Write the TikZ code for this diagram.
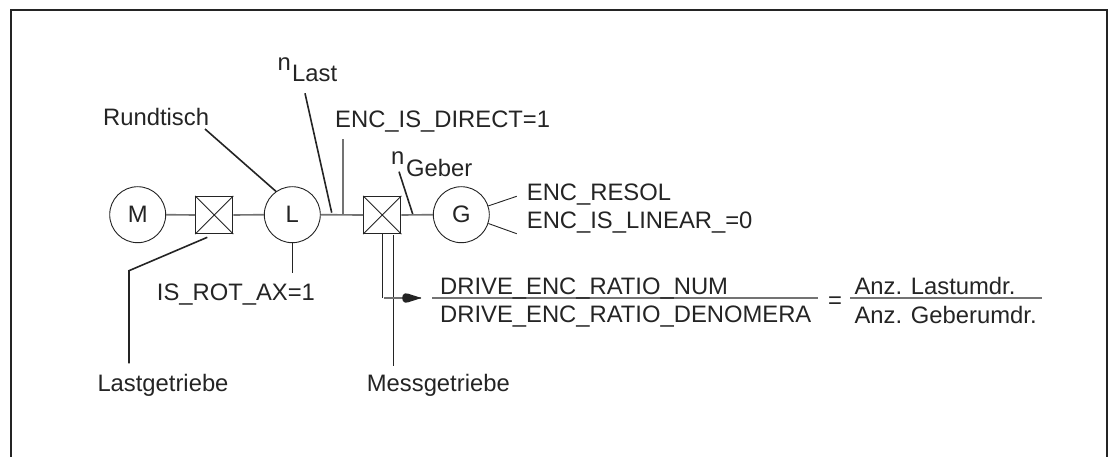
\documentclass[tikz,border=0pt]{standalone}
\usepackage{fontspec}
\setmainfont{Liberation Sans}
\definecolor{ink}{gray}{0.14}
\definecolor{shaftgray}{gray}{0.45}
\tikzset{
  x=1pt,y=-1pt,
  frameline/.style={draw=ink,line width=2pt},
  shaft/.style={draw=shaftgray,line width=1.7pt},
  thinl/.style={draw=ink,line width=0.9pt},
  lead/.style={draw=ink,line width=1.6pt},
  rotor/.style={circle,draw=ink,line width=0.9pt,minimum size=56pt,inner sep=0pt,fill=white},
  gear/.style={rectangle,draw=ink,line width=1.2pt,minimum size=37pt,inner sep=0pt},
  lab/.style={font=\fontsize{23.8}{28}\selectfont,text=ink,inner sep=0pt,anchor=base west},
}
\begin{document}
\begin{tikzpicture}
\useasboundingbox (0,0) rectangle (1111,457);
\draw[frameline] (10.5,457) -- (10.5,10.5) -- (1107,10.5) -- (1107,457);
% shafts and machine elements
\node[rotor] (M) at (137.7,214.7) {};
\node[lab,anchor=center] (Mt) at (M) {M};
\node[gear] (B1) at (214.2,215) {};
\node[rotor] (L) at (292.3,214.7) {};
\node[lab,anchor=center] (Lt) at (L) {L};
\node[gear] (B2) at (382.3,215) {};
\node[rotor] (G) at (461.3,214.7) {};
\node[lab,anchor=center] (Gt) at (G) {G};
\draw[shaft] (M) -- (B1);
\draw[shaft] (B1) -- (L);
\draw[shaft] (L) -- (B2);
\draw[shaft] (B2) -- (G);
\draw[thinl] (B1.north west) -- (B1.south east) (B1.north east) -- (B1.south west);
\draw[thinl] (B2.north west) -- (B2.south east) (B2.north east) -- (B2.south west);
% upper labels
\node[lab] (tRund) at (103,126) {Rundtisch};
\coordinate (r1) at (205,129);
\draw[lead] (r1) -- (L.125);
\node[lab] (tn1) at (277.5,70.7) {n};
\node[lab] (tLast) at (292,81.7) {Last};
\coordinate (n1) at (305,93.3);
\coordinate (n1e) at (331.7,212.7);
\draw[lead] (n1) -- (n1e);
\node[lab] (tDirect) at (335,127.7) {ENC\_IS\_DIRECT=1};
\coordinate (d1) at (343,139.3);
\coordinate (d1e) at (343,214.7);
\draw[shaft,line width=1.2pt] (d1) -- (d1e);
\node[lab] (tn2) at (391,165) {n};
\node[lab] (tGeber) at (406,176.7) {Geber};
\coordinate (n2) at (399,171.7);
\coordinate (n2e) at (412.7,214);
\draw[lead] (n2) -- (n2e);
% encoder labels
\node[lab] (tRes) at (526.7,200.7) {ENC\_RESOL};
\node[lab] (tLin) at (526.7,228.7) {ENC\_IS\_LINEAR\_=0};
\coordinate (g1) at (516.7,196.3);
\coordinate (g2) at (516.7,233.7);
\draw[thinl] (G.18) -- (g1);
\draw[thinl] (G.-18) -- (g2);
% lower left
\coordinate (l1) at (292.3,273.3);
\draw[thinl] (L.south) -- (l1);
\node[lab] (tRot) at (156.7,300) {IS\_ROT\_AX=1};
\coordinate (lg0) at (207.3,237.3);
\coordinate (lg1) at (129,270.7);
\coordinate (lg2) at (129,363.3);
\draw[lead] (lg0) -- (lg1) -- (lg2);
\node[lab] (tLastg) at (97.3,391.7) {Lastgetriebe};
% ratio
\coordinate (t1) at (382.7,233.5);
\coordinate (t2) at (382.7,297.5);
\draw[thinl] (t1) -- (t2);
\coordinate (m1) at (393.3,235);
\coordinate (m2) at (393.3,366);
\draw[lead] (m1) -- (m2);
\node[lab] (tMess) at (366.7,391.7) {Messgetriebe};
\coordinate (a1) at (384,298);
\coordinate (a2) at (421.3,298);
\draw[draw=shaftgray,line width=1.1pt] (a1) -- (a2);
\fill[ink] (a2) -- (408,293.6) -- (405,293.4) .. controls (403,293.6) and (402.2,296) .. (402.2,298)
  .. controls (402.2,300) and (403,302.4) .. (405,302.6) -- (408,302.4) -- cycle;
\coordinate (f1) at (432.3,298);
\coordinate (f2) at (818.3,298);
\draw[shaft,line width=1.4pt] (f1) -- (f2);
\node[lab] (tNum) at (440,294) {DRIVE\_ENC\_RATIO\_NUM};
\node[lab] (tDen) at (440,322.7) {DRIVE\_ENC\_RATIO\_DENOMERA};
\node[lab] (tEq) at (828,308) {=};
\coordinate (f3) at (850,298);
\coordinate (f4) at (1041.7,298);
\draw[shaft,line width=1.4pt] (f3) -- (f4);
\node[lab] (tA1) at (854.3,294.3) {Anz. Lastumdr.};
\node[lab] (tA2) at (854.3,323.3) {Anz. Geberumdr.};
\end{tikzpicture}
\end{document}
